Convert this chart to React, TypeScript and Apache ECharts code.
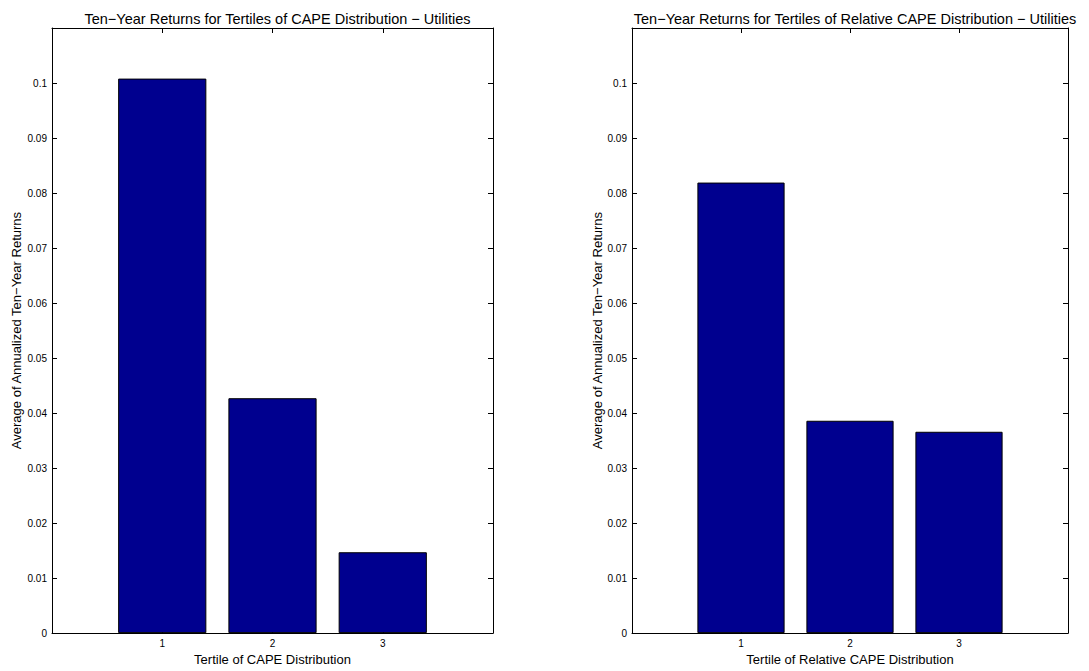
import React, { useEffect, useRef } from "react";
import * as echarts from "echarts";

const categories = ["0", "1", "2", "3", "4"];
const capeReturns = [null, 0.1008, 0.0427, 0.0147, null];
const relCapeReturns = [null, 0.0819, 0.0386, 0.0366, null];
const titles = [
  "Ten\u2212Year Returns for Tertiles of CAPE Distribution \u2212 Utilities",
  "Ten\u2212Year Returns for Tertiles of Relative CAPE Distribution \u2212 Utilities",
];
const xNames = ["Tertile of CAPE Distribution", "Tertile of Relative CAPE Distribution"];
const yName = "Average of Annualized Ten\u2212Year Returns";

const FONT = "Liberation Sans, Arial, Helvetica, sans-serif";

export default function App() {
  const ref = useRef<HTMLDivElement>(null);
  useEffect(() => {
    if (!ref.current) return;
    const chart = echarts.init(ref.current, null, { renderer: "svg" });
    const grids = [
      { left: 52, top: 28, width: 441, height: 612 },
      { left: 632, top: 28, width: 436, height: 612 },
    ];
    const showIdx = (i: number) => i >= 1 && i <= 3;
    const xAxes: any[] = [];
    const yAxes: any[] = [];
    const series: any[] = [];
    const datasets = [capeReturns, relCapeReturns];
    grids.forEach((g, gi) => {
      xAxes.push({
        type: "category",
        gridIndex: gi,
        data: categories,
        boundaryGap: false,
        position: "bottom",
        name: xNames[gi],
        nameLocation: "middle",
        nameGap: 16,
        nameTextStyle: { fontFamily: FONT, fontSize: 13, color: "#000" },
        axisLine: { show: true, onZero: false, lineStyle: { color: "#000", width: 1 } },
        axisTick: { show: true, inside: true, length: 5, interval: (i: number) => showIdx(i), lineStyle: { color: "#000" } },
        axisLabel: {
          show: true,
          margin: 5,
          interval: 0,
          fontFamily: FONT,
          fontSize: 10,
          color: "#000",
          formatter: (v: string, i: number) => (showIdx(i) ? v : ""),
        },
        splitLine: { show: false },
      });
      xAxes.push({
        type: "category",
        gridIndex: gi,
        data: categories,
        boundaryGap: false,
        position: "top",
        axisLine: { show: true, onZero: false, lineStyle: { color: "#000", width: 1 } },
        axisTick: { show: true, inside: true, length: 5, interval: (i: number) => showIdx(i), lineStyle: { color: "#000" } },
        axisLabel: { show: false },
        splitLine: { show: false },
      });
      const yBase = {
        type: "value",
        gridIndex: gi,
        min: 0,
        max: 0.11,
        interval: 0.01,
        splitLine: { show: false },
        axisLine: { show: true, onZero: false, lineStyle: { color: "#000", width: 1 } },
        axisTick: { show: true, inside: true, length: 5, lineStyle: { color: "#000" } },
      };
      yAxes.push({
        ...yBase,
        position: "left",
        name: yName,
        nameLocation: "middle",
        nameRotate: 90,
        nameGap: gi === 0 ? 29 : 28,
        nameTextStyle: { fontFamily: FONT, fontSize: 13, color: "#000" },
        axisLabel: {
          show: true,
          margin: 5,
          fontFamily: FONT,
          fontSize: 10,
          color: "#000",
          formatter: (v: number) => (v > 0.105 ? "" : String(+v.toFixed(2))),
        },
      });
      yAxes.push({
        ...yBase,
        position: "right",
        axisLabel: { show: false },
      });
      series.push({
        type: "bar",
        xAxisIndex: gi * 2,
        yAxisIndex: gi * 2,
        data: datasets[gi],
        barWidth: "80%",
        itemStyle: { color: "#00008F", borderColor: "#000", borderWidth: 1 },
        silent: true,
      });
    });
    chart.setOption({
      animation: false,
      backgroundColor: "#fff",
      title: [
        { text: titles[0], left: 52 + 441 / 2, top: 6, textAlign: "center", textStyle: { fontFamily: FONT, fontSize: 14.5, fontWeight: "normal", color: "#000" } },
        { text: titles[1], left: 632 + 436 / 2, top: 6, textAlign: "center", textStyle: { fontFamily: FONT, fontSize: 14.5, fontWeight: "normal", color: "#000" } },
      ],
      grid: grids.map((g) => ({ ...g, show: false, containLabel: false })),
      xAxis: xAxes,
      yAxis: yAxes,
      series,
    });
    return () => chart.dispose();
  }, []);
  return (
    <div
      ref={ref}
      style={{ position: "absolute", left: 0, top: 0, width: 1089, height: 671 }}
    />
  );
}
